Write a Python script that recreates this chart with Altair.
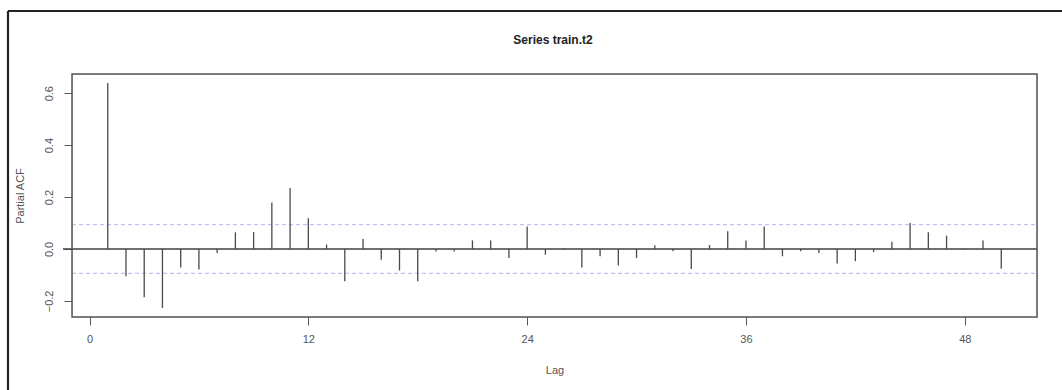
import altair as alt
import pandas as pd

lags = list(range(1, 51))
pacf = [0.639, -0.105, -0.186, -0.227, -0.071, -0.079, -0.015, 0.064, 0.065, 0.179,
        0.235, 0.118, 0.017, -0.124, 0.038, -0.041, -0.083, -0.124, -0.010, -0.010,
        0.033, 0.033, -0.035, 0.087, -0.022, 0.003, -0.071, -0.028, -0.064, -0.035,
        0.014, -0.009, -0.077, 0.015, 0.068, 0.033, 0.087, -0.028, -0.009, -0.015,
        -0.056, -0.047, -0.012, 0.028, 0.100, 0.064, 0.051, -0.003, 0.033, -0.076]
conf_limit = 0.094
x_ticks = [0, 12, 24, 36, 48]
y_ticks = [-0.2, 0.0, 0.2, 0.4, 0.6]
x_domain = [-0.96, 51.96]
y_domain = [-0.262, 0.674]
title_text = "Series  train.t2"

df = pd.DataFrame({"lag": lags, "pacf": pacf, "zero": [0.0] * len(lags)})
conf = pd.DataFrame({"y": [conf_limit, -conf_limit]})

W, H = 965, 243
PAD_L, PAD_T = 72, 74

xs = alt.Scale(domain=x_domain, nice=False, zero=False)
ys = alt.Scale(domain=y_domain, nice=False, zero=False)

tick_color = "#555555"

bars = alt.Chart(df).mark_rule(color="#4a4a4a", strokeWidth=1.3).encode(
    x=alt.X("lag:Q", scale=xs, title="Lag",
            axis=alt.Axis(values=x_ticks, format="d", domain=False, grid=False,
                          tickSize=8, tickColor=tick_color, tickWidth=1,
                          labelFontSize=11, labelColor=tick_color, labelFont="Liberation Sans",
                          labelPadding=8, titleFontSize=11, titleFontWeight="normal",
                          titleColor=tick_color, titleFont="Liberation Sans", titlePadding=20)),
    y=alt.Y("zero:Q", scale=ys, title="Partial ACF",
            axis=alt.Axis(values=y_ticks, format=".1f", domain=False, grid=False,
                          tickSize=8, tickColor=tick_color, tickWidth=1,
                          labelFontSize=11, labelColor=tick_color, labelFont="Liberation Sans",
                          labelAngle=-90, labelAlign="center", labelBaseline="bottom",
                          labelPadding=10, titleFontSize=11, titleFontWeight="normal",
                          titleColor=tick_color, titleFont="Liberation Sans", titlePadding=18)),
    y2="pacf:Q",
)

one = conf.iloc[:1]

box = alt.Chart(one).mark_rect(fillOpacity=0, stroke="#555555", strokeWidth=1.5, clip=False).encode(
    x=alt.value(0), x2=alt.value(W), y=alt.value(0), y2=alt.value(H)
)

zero_line = alt.Chart(one).mark_rule(color="#404040", strokeWidth=1.6).encode(
    x=alt.value(-9), x2=alt.value(W), y=alt.datum(0.0, scale=ys)
)

conf_lines = alt.Chart(conf).mark_rule(color="#c0c0fa", strokeWidth=1.2, strokeDash=[4, 3]).encode(
    x=alt.value(0), x2=alt.value(W), y=alt.Y("y:Q", scale=ys)
)

frame_left = alt.Chart(one).mark_rule(color="#222222", strokeWidth=2.2, clip=False).encode(
    x=alt.value(8 - PAD_L), y=alt.value(11 - PAD_T), y2=alt.value(400 - PAD_T)
)
frame_top = alt.Chart(one).mark_rule(color="#222222", strokeWidth=2.2, clip=False).encode(
    x=alt.value(8 - PAD_L), x2=alt.value(1070 - PAD_L), y=alt.value(11 - PAD_T)
)

title = alt.Chart(one).mark_text(
    text=title_text, fontSize=12, fontWeight="bold", font="Liberation Sans",
    color="#222222", align="center", baseline="middle", clip=False
).encode(x=alt.value(553 - PAD_L), y=alt.value(40 - PAD_T))

chart = alt.layer(conf_lines, zero_line, bars, box, frame_left, frame_top, title).properties(
    width=W, height=H,
    autosize=alt.AutoSizeParams(type="none"),
    padding={"left": PAD_L, "top": PAD_T, "right": 1062 - PAD_L - W, "bottom": 390 - PAD_T - H},
).configure_view(strokeWidth=0).configure(background="white")

chart.save("out.html", embed_options={"renderer": "svg", "actions": False})
